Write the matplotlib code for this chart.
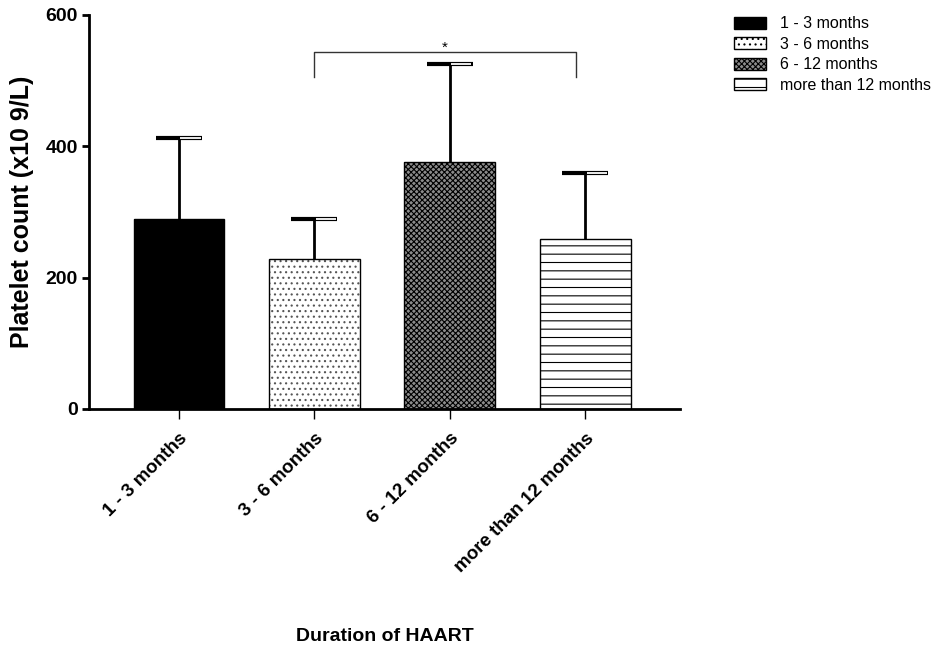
import matplotlib.pyplot as plt
import numpy as np
from matplotlib.patches import Patch

plt.rcParams['font.family'] = ['Liberation Sans', 'DejaVu Sans']
plt.rcParams['hatch.linewidth'] = 0.8

groups = ['1 - 3 months', '3 - 6 months', '6 - 12 months', 'more than 12 months']
means = [290, 228, 376, 259]
sds = [123, 62, 149, 101]
hatches = ['', '...', 'xxxxxx', '--']
faces = ['black', 'white', '#8c8c8c', 'white']
hatch_cols = ['black', '#555555', 'black', 'black']

sig_pair = (1, 2.93)
sig_y = 543
sig_drop = 38

fig = plt.figure(figsize=(9.39, 6.52), dpi=100)
ax = fig.add_axes([0.0948, 0.3727, 0.6294, 0.6043])

x = np.arange(len(groups))
# fill + hatch layer, then outline layer
ax.bar(x, means, width=0.67, color=faces, edgecolor=hatch_cols,
       linewidth=0, hatch=hatches, zorder=2)
ax.bar(x, means, width=0.67, color='none', edgecolor='black',
       linewidth=1.0, zorder=2)

# upper error bars only, with half-filled caps
tops = np.array(means) + np.array(sds)
cap = 0.17
ax.vlines(x, means, tops, color='black', linewidth=2, zorder=3)
ax.hlines(tops, x - cap, x, color='black', linewidth=3, zorder=3)
ax.hlines(tops, x, x + cap, color='black', linewidth=3, zorder=3)
ax.hlines(tops, x + 0.01, x + cap - 0.01, color='white', linewidth=1.3, zorder=4)

# significance bracket
x1, x2 = sig_pair
ax.plot([x1, x1, x2, x2], [sig_y - sig_drop, sig_y, sig_y, sig_y - sig_drop],
        color='#333333', linewidth=1.0, clip_on=False)
ax.text((x1 + x2) / 2, sig_y - 4, '*', ha='center', va='bottom', fontsize=11)

ax.set_xlim(-0.664, 3.70)
ax.set_ylim(0, 600)
ax.set_yticks([0, 200, 400, 600])
ax.set_yticklabels(['0', '200', '400', '600'], fontsize=14, fontweight='bold')
ax.set_xticks(x)
ax.set_xticklabels(groups, rotation=45, ha='right', va='top',
                   rotation_mode='anchor', fontsize=13.5, fontweight='bold')

for s in ['top', 'right']:
    ax.spines[s].set_visible(False)
ax.spines['left'].set_linewidth(2)
ax.spines['bottom'].set_linewidth(2)
ax.tick_params(axis='y', length=5, width=2, pad=3)
ax.tick_params(axis='x', length=7, width=1, pad=8)

ax.set_ylabel('Platelet count (x10 9/L)', fontsize=18, fontweight='bold', labelpad=8)
ax.set_xlabel('Duration of HAART', fontsize=14, fontweight='bold', labelpad=38)

handles = [Patch(facecolor=f, edgecolor='black', hatch=h, linewidth=1.0)
           for f, h in zip(faces, hatches)]
fig.legend(handles, groups, loc='upper left', bbox_to_anchor=(0.775, 0.985),
           frameon=False, fontsize=11.5, handlelength=2.0, handleheight=0.8,
           labelspacing=0.35, handletextpad=0.9, borderaxespad=0)

fig.savefig('out.png', dpi=100)
